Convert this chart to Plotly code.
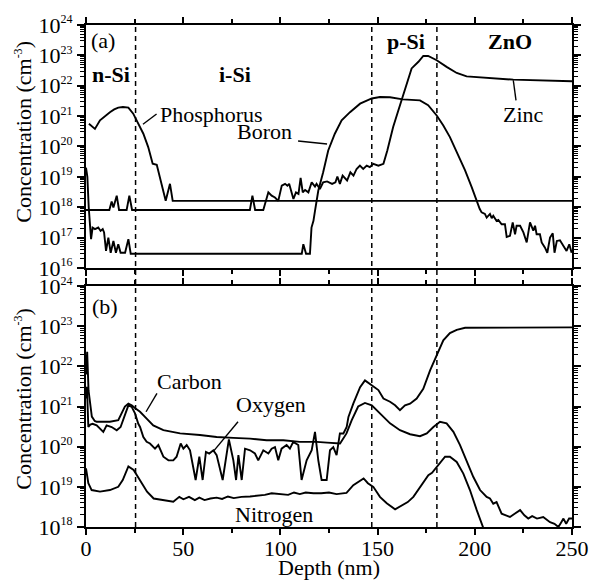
import plotly.graph_objects as go

# ---- SIMS depth profiles: depth in nm, concentration as log10(cm^-3) ----

# (a) dopants
p_depth = [1.5, 4.6, 7.2, 10, 12.3, 14.5, 16.6, 19, 21.8, 24.3, 26, 28, 29.5, 32, 34.3,
           36.4, 38, 39.8, 41, 43.2, 44.6, 250]
p_log = [20.75, 20.58, 20.86, 21.02, 21.13, 21.22, 21.28, 21.30, 21.28, 21.08, 20.86, 20.62,
         20.42, 19.98, 19.43, 19.40, 18.99, 18.55, 18.21, 18.77, 18.21, 18.21]

zn_depth = [0, 12, 13.2, 14.1, 15.8, 17, 20.9, 22.3, 23.7, 84.3, 85.6, 87, 91.2, 92.4,
            93.8, 95.5, 97.2, 98.9, 100.7, 102.4, 103.6, 104.5, 106.7, 108, 109.3, 110.4,
            111.5, 112.7, 114.4, 116.1, 117.8, 118.6, 120.3, 122, 124, 126.6, 128.3, 129.3,
            130.6, 132, 134.3, 136, 137.6, 139.2, 140.9, 142.6, 144.4, 146, 147.8, 150.4,
            153, 155, 158, 160.7, 164, 167.5, 171, 173.5, 176, 180.4, 185.5, 190.7, 195.8,
            206, 219.8, 250]
zn_log = [17.91, 17.91, 18.19, 17.99, 18.38, 17.91, 17.91, 18.38, 17.91, 17.91, 18.38, 17.91,
          17.91, 18.19, 18.49, 18.38, 18.32, 18.21, 18.71, 18.77, 18.71, 18.77, 18.27, 18.49,
          18.44, 18.97, 18.49, 18.57, 18.49, 18.82, 18.68, 18.77, 18.60, 18.82, 18.85, 18.77,
          18.82, 19.01, 18.77, 19.04, 18.88, 19.15, 19.04, 19.26, 19.37, 19.26, 19.37, 19.32,
          19.43, 19.37, 19.43, 19.87, 20.64, 21.19, 21.85, 22.57, 22.79, 22.98, 22.98, 22.84,
          22.62, 22.42, 22.31, 22.26, 22.20, 22.15]

b_depth = [0, 0.7, 1.4, 2.0, 2.6, 3.4, 4.6, 6.3, 7.5, 8.6, 9.3, 10.3, 11.5, 12.7, 14.1,
           15.4, 16.6, 17.8, 20.1, 21.8, 23, 111, 111.8, 113.2, 115.2, 116, 117, 117.8,
           119.5, 122, 124.6, 128, 131.5, 135.8, 141, 147, 151.2, 156.4, 163, 171.8, 176,
           180.4, 183.8, 187.2, 190.7, 195, 198.4, 201, 202.5, 203.5, 205.2, 206.1, 207.8,
           208.7, 209.5, 211.2, 212.1, 213.8, 215.5, 216.4, 218.1, 219.5, 220.7, 221.5,
           223.3, 225, 226.7, 228.4, 230.1, 231, 231.8, 233.5, 234.4, 236.1, 237.3, 238.7,
           240.1, 241, 242.2, 243.8, 245.5, 247.2, 248.6, 249.8]
b_log = [19.30, 19.00, 18.00, 17.30, 16.95, 17.33, 17.28, 17.33, 17.22, 17.28, 17.17, 16.56,
         17.00, 16.50, 16.89, 16.50, 16.78, 16.50, 16.50, 16.95, 16.47, 16.47, 16.78, 16.47,
         16.47, 17.33, 17.55, 17.88, 18.55, 19.15, 19.87, 20.42, 20.86, 21.13, 21.41, 21.58,
         21.63, 21.62, 21.55, 21.52, 21.36, 21.02, 20.69, 20.31, 19.81, 19.21, 18.66, 18.19,
         17.95, 17.83, 17.78, 17.66, 17.78, 17.64, 17.72, 17.55, 17.58, 17.44, 17.44, 17.02,
         17.06, 17.50, 17.11, 17.39, 17.39, 17.17, 16.84, 17.50, 17.23, 17.39, 17.11, 17.11,
         16.84, 16.67, 16.50, 17.00, 17.14, 16.50, 16.89, 16.91, 16.73, 16.56, 16.78, 16.50]

# (b) impurities
c_depth = [0, 0.6, 1.3, 2.0, 3.0, 4.5, 5.5, 9, 12.3, 16.6, 18.4, 20, 21.8, 23.5, 25.5,
           27.8, 31.2, 34.6, 39.8, 48.4, 58.6, 67.2, 75.8, 84.4, 92.9, 101.5, 110, 118.7,
           124, 130.7, 134, 136.7, 140, 143.5, 147, 151.2, 156.4, 161.5, 166.7, 171.8,
           175.3, 178.7, 182.1, 185.5, 189, 192.4, 195.8, 199.2, 202.7, 206.1, 207.8, 209.5,
           211.2, 213.8, 216, 218.1, 220.5, 223.3, 225.5, 227.5, 229.5, 232, 235.2, 237,
           238.7, 241, 243, 244.5, 245.6, 247, 248.5, 250]
c_log = [21.80, 22.36, 21.40, 21.07, 20.75, 20.64, 20.62, 20.62, 20.62, 20.66, 20.83, 21.00,
         21.07, 21.03, 20.95, 20.87, 20.70, 20.53, 20.41, 20.33, 20.29, 20.24, 20.22, 20.20,
         20.16, 20.16, 20.12, 20.12, 20.10, 20.08, 20.33, 20.66, 21.00, 21.09, 21.03, 20.83,
         20.58, 20.41, 20.31, 20.26, 20.33, 20.49, 20.62, 20.58, 20.37, 20.04, 19.66, 19.25,
         18.92, 18.75, 18.71, 18.58, 18.62, 18.33, 18.29, 18.25, 18.33, 18.42, 18.29, 18.21,
         18.27, 18.21, 18.25, 18.17, 18.12, 18.08, 18.00, 18.12, 18.21, 18.08, 18.21, 18.21]

o_depth = [0, 0.5, 1.2, 2.2, 3.4, 5.5, 8.9, 10.6, 13.2, 15.8, 17.8, 20.1, 21.8, 23.5, 25.2,
           26.9, 27.8, 29.5, 31.2, 32.9, 35.5, 37.2, 39.8, 42.4, 44.9, 46.6, 48.7, 50.1,
           51.8, 53.5, 54.4, 56.4, 58.3, 60.0, 61.7, 63.4, 65.5, 67.2, 70.3, 73.5, 75.8,
           77.2, 78.4, 80.1, 81.8, 84.4, 86.9, 88.6, 91.2, 93.8, 95.5, 97.2, 98.9, 100.6,
           103.2, 104.9, 106.6, 109.2, 110.9, 113.5, 116.1, 117.8, 119.5, 121.2, 123.8,
           125.5, 127.2, 128.9, 130.6, 132.4, 134.1, 135, 137.5, 141, 143.5, 147, 150.4, 153,
           156.4, 159, 161.5, 164.1, 166.7, 170.1, 173.5, 177, 180.4, 183.8, 187.2, 190.7,
           195, 250]
o_log = [21.20, 21.49, 20.49, 20.55, 20.57, 20.53, 20.37, 20.53, 20.49, 20.41, 20.49, 20.83,
         21.03, 20.99, 20.83, 20.57, 20.49, 20.24, 20.12, 20.08, 19.95, 20.04, 19.75, 19.66,
         19.66, 19.75, 20.08, 19.95, 20.04, 19.91, 19.66, 19.17, 19.75, 19.17, 19.87, 19.83,
         19.91, 19.79, 19.17, 20.18, 19.66, 19.17, 19.79, 19.17, 19.95, 19.91, 19.83, 19.66,
         19.91, 19.83, 19.95, 19.99, 19.66, 19.95, 20.04, 19.95, 20.12, 20.04, 19.17, 19.66,
         19.91, 20.37, 19.66, 19.17, 19.17, 19.91, 19.99, 19.79, 20.33, 20.33, 20.49, 20.74,
         21.07, 21.48, 21.65, 21.53, 21.41, 21.20, 21.12, 21.03, 20.91, 21.03, 21.07, 21.20,
         21.44, 21.90, 22.27, 22.65, 22.83, 22.91, 22.96, 22.97]

n_depth = [0, 1.2, 2.9, 7.2, 12.3, 16.6, 18.9, 21.8, 24.5, 27.9, 31.4, 34.8, 39.9, 44.9,
           48, 50.1, 53, 56, 58.3, 61, 64, 67.2, 70, 73, 76, 80, 84.4, 88, 92, 95.5, 100,
           104, 107, 110, 113, 117, 121, 125, 128.9, 134, 137.5, 140, 142.8, 145, 147.8,
           151.2, 154.7, 159, 161, 163.2, 165.5, 168.4, 171.8, 174, 176.1, 178, 180.4, 184.7,
           187.2, 190.7, 194.1, 197.5, 201, 203.5, 206, 208]
n_log = [19.46, 19.09, 18.92, 18.88, 18.92, 19.00, 19.17, 19.51, 19.42, 19.17, 18.88, 18.71,
         18.67, 18.63, 18.75, 18.69, 18.75, 18.67, 18.73, 18.67, 18.71, 18.73, 18.70, 18.76,
         18.72, 18.75, 18.76, 18.78, 18.80, 18.84, 18.82, 18.80, 18.86, 18.82, 18.86, 18.84,
         18.84, 18.86, 18.82, 18.85, 19.04, 19.12, 19.21, 19.09, 19.00, 18.75, 18.59, 18.44,
         18.50, 18.55, 18.62, 18.75, 19.00, 19.15, 19.29, 19.35, 19.50, 19.75, 19.75, 19.62,
         19.33, 18.92, 18.42, 18.09, 17.80, 17.50]

# layer boundaries (nm)
boundaries = [25.5, 147, 180.5]

# decade exponents shown on each concentration axis
top_decades = list(range(16, 25))
bottom_decades = list(range(18, 25))

# leader lines: (depth, log10 conc) start and end
top_leaders = [((29.3, 20.73), (36.3, 21.07)),    # Phosphorus
               ((109.1, 20.18), (124.0, 20.08)),  # Boron
               ((219.8, 22.18), (221.2, 21.52))]  # Zinc
bottom_leaders = [((30.9, 20.87), (36.5, 21.33)),  # Carbon
                  ((65.3, 19.87), (78.2, 20.62))]  # Oxygen

SERIF = "Liberation Serif"
LW = 1.9
SUP = '<sup><span style="font-size:12px">{}</span></sup>'


def conc(vals):
    return [10 ** v for v in vals]


fig = go.Figure()

line = dict(color="black", width=LW)
for d, v in [(p_depth, p_log), (zn_depth, zn_log), (b_depth, b_log)]:
    fig.add_trace(go.Scatter(x=d, y=conc(v), mode="lines", line=line,
                             xaxis="x", yaxis="y", showlegend=False, hoverinfo="skip"))
for d, v in [(c_depth, c_log), (o_depth, o_log), (n_depth, n_log)]:
    fig.add_trace(go.Scatter(x=d, y=conc(v), mode="lines", line=line,
                             xaxis="x2", yaxis="y2", showlegend=False, hoverinfo="skip"))

leader_line = dict(color="black", width=1.4)
for (a, b) in top_leaders:
    fig.add_trace(go.Scatter(x=[a[0], b[0]], y=conc([a[1], b[1]]), mode="lines",
                             line=leader_line, xaxis="x", yaxis="y",
                             showlegend=False, hoverinfo="skip"))
for (a, b) in bottom_leaders:
    fig.add_trace(go.Scatter(x=[a[0], b[0]], y=conc([a[1], b[1]]), mode="lines",
                             line=leader_line, xaxis="x2", yaxis="y2",
                             showlegend=False, hoverinfo="skip"))

shapes = [dict(type="line", xref="x", yref="paper", x0=b, x1=b, y0=0, y1=1,
               line=dict(color="black", width=1.5, dash="5px,4px"))
          for b in boundaries]

tick_font = dict(family=SERIF, size=22, color="black")


def xaxis_cfg(anchor, labels):
    return dict(range=[0, 250], anchor=anchor, tickmode="linear", tick0=0, dtick=50,
                ticks="outside", ticklen=6, tickwidth=1.5, tickcolor="black",
                minor=dict(tick0=0, dtick=25, ticks="outside", ticklen=4,
                           tickwidth=1.5, tickcolor="black"),
                showline=True, linecolor="black", linewidth=2, mirror="allticks",
                showgrid=False, zeroline=False, showticklabels=labels,
                ticklabelstandoff=-5, automargin=False, tickfont=tick_font)


def yaxis_cfg(decades, domain):
    minor_vals = [m * 10.0 ** e for e in decades[:-1] for m in range(2, 10)]
    return dict(type="log", range=[decades[0], decades[-1]], domain=domain,
                tickmode="array", tickvals=[10.0 ** e for e in decades],
                ticktext=["10" + SUP.format(e) for e in decades],
                ticks="outside", ticklen=7, tickwidth=1.5, tickcolor="black",
                minor=dict(tickmode="array", tickvals=minor_vals, ticks="outside",
                           ticklen=4, tickwidth=1, tickcolor="black"),
                showline=True, linecolor="black", linewidth=2, mirror="allticks",
                showgrid=False, zeroline=False, automargin=False, tickfont=tick_font)


def label(text, x, y, xref, yref, xanchor="center", bold=False):
    if bold:
        text = "<b>" + text + "</b>"
    return dict(text=text, x=x, y=y, xref=xref, yref=yref, xanchor=xanchor,
                yanchor="middle", showarrow=False,
                font=dict(family=SERIF, size=22, color="black"))


ytitle = "Concentration (cm" + SUP.format("-3") + ")"

annotations = [
    label("(a)", 1.3, 23.5, "x", "y", xanchor="left"),
    label("n-Si", 12.9, 22.36, "x", "y", bold=True),
    label("i-Si", 76.6, 22.36, "x", "y", bold=True),
    label("p-Si", 164.4, 23.45, "x", "y", bold=True),
    label("ZnO", 218.1, 23.45, "x", "y", bold=True),
    label("Phosphorus", 37.0, 21.06, "x", "y", xanchor="left"),
    label("Boron", 107.0, 20.5, "x", "y", xanchor="right"),
    label("Zinc", 224.8, 21.06, "x", "y"),
    label("(b)", 2.2, 23.5, "x2", "y2", xanchor="left"),
    label("Carbon", 53.0, 21.63, "x2", "y2"),
    label("Oxygen", 76.3, 21.06, "x2", "y2", xanchor="left"),
    label("Nitrogen", 96.7, 18.3, "x2", "y2"),
    dict(text=ytitle, x=-0.128, y=0.787, xref="paper", yref="paper", textangle=-90,
         showarrow=False, xanchor="center", yanchor="middle",
         font=dict(family=SERIF, size=22, color="black")),
    dict(text=ytitle, x=-0.128, y=0.255, xref="paper", yref="paper", textangle=-90,
         showarrow=False, xanchor="center", yanchor="middle",
         font=dict(family=SERIF, size=22, color="black")),
    dict(text="Depth (nm)", x=0.5, y=-0.08, xref="paper", yref="paper",
         showarrow=False, xanchor="center", yanchor="middle",
         font=dict(family=SERIF, size=22, color="black")),
]

fig.update_layout(
    width=589, height=580,
    margin=dict(l=86, r=17, t=25, b=53, autoexpand=False),
    paper_bgcolor="white", plot_bgcolor="white",
    xaxis=xaxis_cfg("y", False),
    xaxis2=xaxis_cfg("y2", True),
    yaxis=yaxis_cfg(top_decades, [0.516, 1.0]),
    yaxis2=yaxis_cfg(bottom_decades, [0.0, 0.480]),
    shapes=shapes,
    annotations=annotations,
    font=dict(family=SERIF, color="black"),
)

fig.write_html("out.html")
